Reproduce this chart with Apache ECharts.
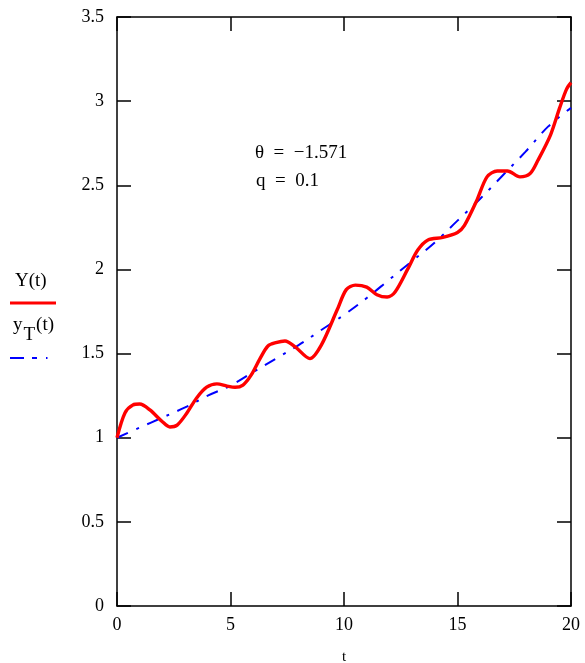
<!DOCTYPE html>
<html><head><meta charset="utf-8">
<script src="https://cdn.jsdelivr.net/npm/echarts@6/dist/echarts.min.js"></script>
<style>html,body{margin:0;padding:0;background:#fff}#c{width:585px;height:663px}</style>
</head><body><div id="c"></div>
<script>
// Y(t)
const tY = [0, 0.35, 0.7, 1.0, 1.45, 2.0, 2.33, 2.65, 3.08, 3.5, 3.95, 4.4, 4.85, 5.2, 5.55, 5.9, 6.3, 6.65, 7.0, 7.4, 7.85, 8.5, 9.0, 9.7, 10.1, 10.5, 11.0, 11.45, 11.9, 12.25, 12.8, 13.25, 13.7, 14.35, 15.0, 15.3, 15.85, 16.3, 16.75, 17.2, 17.75, 18.2, 18.55, 19.1, 19.5, 19.8, 20];
const Yv = [1.0, 1.147, 1.195, 1.2, 1.165, 1.095, 1.064, 1.075, 1.147, 1.235, 1.30, 1.32, 1.307, 1.30, 1.313, 1.37, 1.47, 1.545, 1.565, 1.575, 1.54, 1.47, 1.55, 1.76, 1.88, 1.907, 1.895, 1.85, 1.836, 1.866, 2.0, 2.115, 2.175, 2.19, 2.22, 2.26, 2.41, 2.55, 2.585, 2.585, 2.55, 2.57, 2.65, 2.80, 2.96, 3.07, 3.11];
// y_T(t)
const tT = [0, 1, 2, 3, 4, 5, 6, 7, 8, 9, 10, 11, 12, 13, 14, 15, 16, 17, 18, 19, 20];
const yT = [1.0, 1.06, 1.12, 1.18, 1.25, 1.31, 1.39, 1.47, 1.55, 1.64, 1.73, 1.83, 1.94, 2.05, 2.16, 2.29, 2.42, 2.56, 2.70, 2.85, 2.96];
const xTicks = [0, 5, 10, 15, 20];
const yTicks = [0, 0.5, 1, 1.5, 2, 2.5, 3, 3.5];

const FONT = 'Liberation Serif';
const chart = echarts.init(document.getElementById('c'));
const axisLine = {show: true, onZero: false, lineStyle: {color: '#000', width: 1.5}};
const tick = {show: true, inside: true, length: 14, lineStyle: {color: '#000', width: 1.5}};
chart.setOption({
  animation: false,
  grid: {left: 117, right: 14, top: 17, bottom: 57, containLabel: false, outerBoundsMode: 'none'},
  xAxis: [
    {type: 'value', min: xTicks[0], max: xTicks[xTicks.length - 1], interval: 5, position: 'bottom',
     axisLine, axisTick: tick, splitLine: {show: false},
     axisLabel: {color: '#000', fontFamily: FONT, fontSize: 18, margin: 10},
     name: 't', nameLocation: 'middle', nameGap: 44,
     nameTextStyle: {color: '#000', fontFamily: FONT, fontSize: 15}},
    {type: 'value', min: xTicks[0], max: xTicks[xTicks.length - 1], interval: 5, position: 'top',
     axisLine, axisTick: tick, splitLine: {show: false}, axisLabel: {show: false}}
  ],
  yAxis: [
    {type: 'value', min: yTicks[0], max: yTicks[yTicks.length - 1], interval: 0.5, position: 'left',
     axisLine, axisTick: tick, splitLine: {show: false},
     axisLabel: {color: '#000', fontFamily: FONT, fontSize: 18, margin: 13}},
    {type: 'value', min: yTicks[0], max: yTicks[yTicks.length - 1], interval: 0.5, position: 'right',
     axisLine, axisTick: tick, splitLine: {show: false}, axisLabel: {show: false}}
  ],
  series: [
    {type: 'line', data: tT.map((t, i) => [t, yT[i]]), smooth: 0.4, symbol: 'none',
     lineStyle: {color: '#0000ff', width: 2, type: [12, 9, 3, 9]}, z: 3},
    {type: 'line', data: tY.map((t, i) => [t, Yv[i]]), smooth: 0.3, symbol: 'none',
     lineStyle: {color: '#ff0000', width: 3.4}, z: 4}
  ],
  graphic: [
    {type: 'text', left: 15, top: 272, style: {text: 'Y(t)', font: '19px "Liberation Serif"', fill: '#000'}},
    {type: 'line', shape: {x1: 10, y1: 303, x2: 56, y2: 303}, style: {stroke: '#ff0000', lineWidth: 3.2}},
    {type: 'text', left: 13, top: 316, style: {
      text: '{a|y}{s|T}{a|(t)}',
      rich: {a: {font: '19px "Liberation Serif"', fill: '#000', verticalAlign: 'top', padding: [0, 0, 0, 0]},
             s: {font: '19px "Liberation Serif"', fill: '#000', padding: [10, 1, 0, 1]}}}},
    {type: 'line', shape: {x1: 10, y1: 358, x2: 56, y2: 358}, style: {stroke: '#0000ff', lineWidth: 2, lineDash: [14, 8, 5, 9, 1.5, 20]}},
    {type: 'text', left: 255, top: 144, style: {text: 'θ  =  −1.571', font: '19px "Liberation Serif"', fill: '#000'}},
    {type: 'text', left: 256, top: 172, style: {text: 'q  =  0.1', font: '19px "Liberation Serif"', fill: '#000'}}
  ]
});
</script></body></html>
